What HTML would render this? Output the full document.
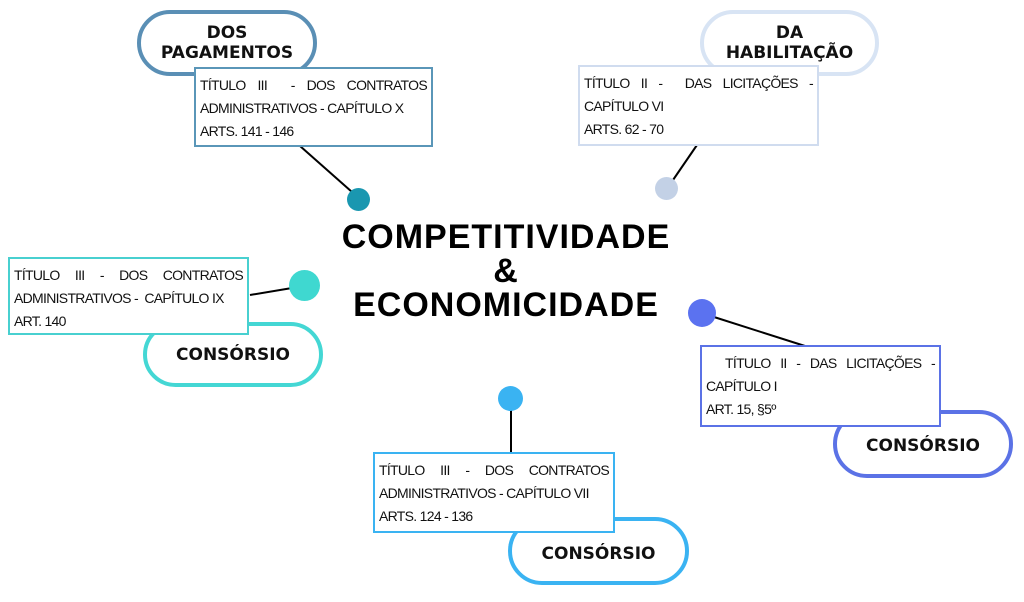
<!DOCTYPE html>
<html><head><meta charset="utf-8"><style>
body{margin:0;width:1024px;height:602px;background:#fff;position:relative;overflow:hidden;font-family:"Liberation Sans",sans-serif}
.p{position:absolute;border-radius:40px;background:#fff;box-sizing:border-box;display:flex;align-items:center;justify-content:center;text-align:center;font-weight:bold;font-size:17px;line-height:20px;color:#111;font-family:"DejaVu Sans",sans-serif}
.b{position:absolute;background:#fff;box-sizing:border-box;border:2px solid;padding:5px 4px 0;font-size:14px;letter-spacing:-0.7px;color:#111;line-height:23px}
.b div{white-space:nowrap}
.j{text-align:justify;text-align-last:justify}
.d{position:absolute;border-radius:50%}
</style></head><body>
<svg width="1024" height="602" style="position:absolute;left:0;top:0">
<g stroke="#000" stroke-width="2">
<line x1="300" y1="146" x2="352" y2="192"/>
<line x1="697" y1="145" x2="673" y2="180"/>
<line x1="250" y1="295" x2="292" y2="288"/>
<line x1="714" y1="317" x2="805" y2="346"/>
<line x1="511" y1="408" x2="511" y2="452"/>
</g></svg>
<div class="p" style="left:137px;top:10px;width:180px;height:66px;border:4px solid #5a8fb5">DOS<br>PAGAMENTOS</div>
<div class="b" style="left:194px;top:67px;width:239px;height:80px;border-color:#5a96b8"><div class="j">TÍTULO III &nbsp;- DOS CONTRATOS</div><div>ADMINISTRATIVOS - CAPÍTULO X</div><div>ARTS. 141 - 146</div></div>
<div class="d" style="left:347px;top:188px;width:23px;height:23px;background:#1a97b0"></div>

<div class="p" style="left:700px;top:10px;width:179px;height:66px;border:4px solid #d8e4f4">DA<br>HABILITAÇÃO</div>
<div class="b" style="left:578px;top:65px;width:241px;height:81px;border-color:#d0dcef"><div class="j">TÍTULO II - &nbsp;DAS LICITAÇÕES -</div><div>CAPÍTULO VI</div><div>ARTS. 62 - 70</div></div>
<div class="d" style="left:655px;top:177px;width:23px;height:23px;background:#c3d1e6"></div>

<div class="p" style="left:143px;top:322px;width:180px;height:65px;border:4px solid #44d7d4">CONSÓRSIO</div>
<div class="b" style="left:8px;top:257px;width:241px;height:78px;border-color:#48d0d0"><div class="j">TÍTULO III - DOS CONTRATOS</div><div>ADMINISTRATIVOS - &nbsp;CAPÍTULO IX</div><div>ART. 140</div></div>
<div class="d" style="left:289px;top:270px;width:31px;height:31px;background:#3fd8d0"></div>

<div class="p" style="left:833px;top:410px;width:180px;height:68px;border:4px solid #5b72e6;padding-top:4px">CONSÓRSIO</div>
<div class="b" style="left:700px;top:345px;width:241px;height:82px;border-color:#5b72e6"><div class="j">&nbsp; TÍTULO II - DAS LICITAÇÕES -</div><div>CAPÍTULO I</div><div>ART. 15, §5º</div></div>
<div class="d" style="left:688px;top:299px;width:28px;height:28px;background:#5b72f0"></div>

<div class="p" style="left:508px;top:517px;width:181px;height:68px;border:4px solid #3ab3f2;padding-top:6px">CONSÓRSIO</div>
<div class="b" style="left:373px;top:452px;width:242px;height:81px;border-color:#3ab3f2"><div class="j">TÍTULO III - DOS CONTRATOS</div><div>ADMINISTRATIVOS - CAPÍTULO VII</div><div>ARTS. 124 - 136</div></div>
<div class="d" style="left:498px;top:386px;width:25px;height:25px;background:#3ab3f2"></div>

<div style="position:absolute;left:306px;top:220px;width:400px;text-align:center;font-weight:bold;font-size:34px;line-height:34px;letter-spacing:1px;color:#000">COMPETITIVIDADE<br>&amp;<br>ECONOMICIDADE</div>
</body></html>
